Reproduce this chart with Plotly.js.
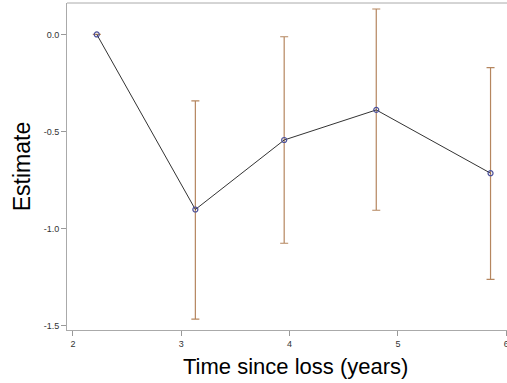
<!DOCTYPE html>
<html>
<head>
<meta charset="utf-8">
<script src="https://cdn.plot.ly/plotly-3.0.1.min.js"></script>
<style>html,body{margin:0;padding:0;background:#fff;}#chart{width:507px;height:383px;}</style>
</head>
<body>
<div id="chart"></div>
<script>
var timeYears = [2.22, 3.13, 3.95, 4.80, 5.855];
var estimate = [0.0, -0.902, -0.544, -0.389, -0.715];
var upperCI = [0.0, -0.342, -0.012, 0.131, -0.171];
var lowerCI = [0.0, -1.467, -1.076, -0.906, -1.262];
var xTicks = [2, 3, 4, 5, 6];
var yTicks = [0.0, -0.5, -1.0, -1.5];
var yTickText = ["0.0", "-0.5", "-1.0", "-1.5"];
var xTitle = 'Time since loss (years)';
var yTitle = 'Estimate';

var errPlus = upperCI.map(function(u, i){ return u - estimate[i]; });
var errMinus = estimate.map(function(e, i){ return e - lowerCI[i]; });

var trace = {
  x: timeYears,
  y: estimate,
  type: 'scatter',
  mode: 'lines+markers',
  line: {color: '#333333', width: 1},
  marker: {symbol: 'circle-open', size: 5, color: '#4a4f9a', line: {width: 1.2, color: '#4a4f9a'}},
  error_y: {type: 'data', symmetric: false, array: errPlus, arrayminus: errMinus,
            color: '#b5865f', thickness: 1.2, width: 4},
  showlegend: false,
  hoverinfo: 'none'
};

var layout = {
  width: 507, height: 383,
  margin: {l: 67, r: 0, t: 3, b: 53},
  paper_bgcolor: '#ffffff', plot_bgcolor: '#ffffff',
  font: {family: 'Liberation Sans, Arial, sans-serif', color: '#333333'},
  xaxis: {
    range: [1.945, 6.007],
    tickvals: xTicks,
    ticktext: xTicks.map(String),
    ticklabeloverflow: 'allow',
    ticks: 'outside', ticklen: 5, tickcolor: '#999999', tickwidth: 1,
    showline: true, linecolor: '#aaaaaa', linewidth: 1,
    showgrid: false, zeroline: false,
    tickfont: {size: 9, color: '#333333'},
    automargin: false
  },
  yaxis: {
    range: [-1.523, 0.162],
    tickvals: yTicks,
    ticktext: yTickText,
    ticks: 'outside', ticklen: 5, tickcolor: '#999999', tickwidth: 1,
    showline: true, linecolor: '#aaaaaa', linewidth: 1,
    showgrid: false, zeroline: false,
    tickfont: {size: 9, color: '#333333'},
    title: {text: yTitle, font: {size: 23, color: '#000000'}, standoff: 6},
    automargin: false
  },
  annotations: [{
    text: xTitle, xref: 'paper', yref: 'paper', x: 0.519, y: 0,
    xanchor: 'center', yanchor: 'top', yshift: -22, showarrow: false,
    font: {size: 22, color: '#000000', family: 'Liberation Sans, Arial, sans-serif'}
  }],
  shapes: [{type: 'line', xref: 'paper', yref: 'paper', x0: 0, x1: 1, y0: 1, y1: 1,
            line: {color: '#aaaaaa', width: 1}}]
};

Plotly.newPlot('chart', [trace], layout, {displayModeBar: false, staticPlot: true});
</script>
</body>
</html>
